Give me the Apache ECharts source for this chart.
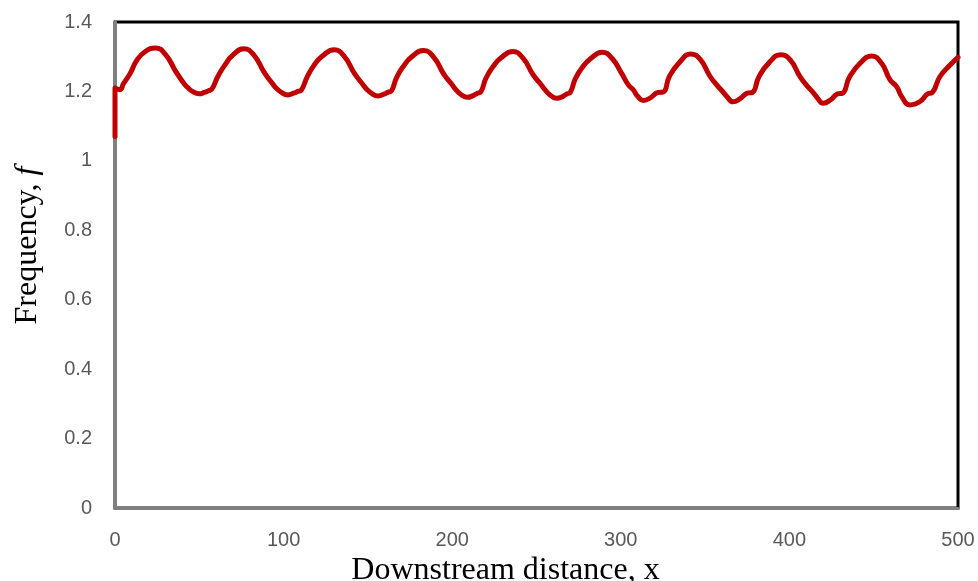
<!DOCTYPE html>
<html>
<head>
<meta charset="utf-8">
<title>Frequency vs downstream distance</title>
<script src="https://cdn.jsdelivr.net/npm/echarts@6/dist/echarts.min.js"></script>
<style>
  html, body { margin: 0; padding: 0; background: #fff; }
  #chart { width: 978px; height: 581px; }
</style>
</head>
<body>
<div id="chart"></div>
<script>
// Downstream distance x (sampled along the trace)
const distance = [
  0, 0, 1.5, 3, 5, 9, 13, 18, 24,
  30, 36, 41, 43, 46, 50, 53, 55.5, 57.5, 61, 65, 70, 76.5,
  82.5, 88.5, 93.5, 95.5, 98.5, 102.5, 106, 108.5, 110.5, 114, 118, 123, 130,
  136, 142, 147, 149, 152, 156, 159.5, 162, 164, 167, 171, 176, 183,
  189, 195, 200, 202, 205, 209, 212.5, 215, 217, 220, 224, 229, 236,
  242, 248, 253, 255, 258, 262, 265.5, 268, 270, 273, 277, 282, 289,
  295, 300.5, 304.5, 307.5, 310, 313.5, 318, 322, 325, 329, 335, 341.5,
  347, 353, 357, 360, 363, 366.5, 371, 375, 378, 382, 388, 395,
  400.5, 406.5, 410.5, 413.5, 416.5, 420, 424.5, 428.5, 431.5, 435.5, 441.9, 448.8,
  454.7, 459.7, 463.6, 466.6, 471.5, 477.5, 482, 484.5, 489.3, 495.3, 500
];

// Frequency f at each distance
const frequency = [
  1.07, 1.21, 1.207, 1.205, 1.222, 1.252, 1.29, 1.315, 1.325,
  1.306, 1.258, 1.222, 1.212, 1.200, 1.193, 1.197, 1.202, 1.207, 1.243, 1.275, 1.305, 1.323,
  1.304, 1.255, 1.222, 1.210, 1.198, 1.190, 1.195, 1.200, 1.204, 1.242, 1.275, 1.302, 1.320,
  1.301, 1.252, 1.220, 1.208, 1.195, 1.187, 1.192, 1.198, 1.202, 1.240, 1.272, 1.300, 1.318,
  1.299, 1.250, 1.219, 1.206, 1.192, 1.183, 1.188, 1.195, 1.199, 1.238, 1.270, 1.297, 1.315,
  1.296, 1.248, 1.218, 1.205, 1.190, 1.180, 1.185, 1.193, 1.197, 1.236, 1.268, 1.294, 1.313,
  1.294, 1.252, 1.219, 1.204, 1.186, 1.174, 1.183, 1.197, 1.198, 1.245, 1.285, 1.308,
  1.293, 1.243, 1.218, 1.202, 1.185, 1.170, 1.180, 1.195, 1.197, 1.243, 1.283, 1.306,
  1.291, 1.241, 1.216, 1.200, 1.182, 1.166, 1.176, 1.193, 1.195, 1.240, 1.281, 1.302,
  1.281, 1.233, 1.214, 1.185, 1.161, 1.171, 1.193, 1.196, 1.243, 1.276, 1.298
];

const xTicks = [0, 100, 200, 300, 400, 500];
const yTicks = [0, 0.2, 0.4, 0.6, 0.8, 1, 1.2, 1.4];

const points = distance.map((d, i) => [d, frequency[i]]);

const tickFont = {
  color: '#595959',
  fontFamily: 'Liberation Sans, Arial, sans-serif',
  fontSize: 20
};
const serif = 'Liberation Serif, Times New Roman, serif';

const chart = echarts.init(document.getElementById('chart'), null, { renderer: 'canvas' });

chart.setOption({
  animation: false,
  backgroundColor: '#ffffff',
  grid: {
    left: 115, right: 20, top: 22, bottom: 73,
    outerBoundsMode: 'none',
    containLabel: false,
    show: true,
    borderColor: '#000000',
    borderWidth: 3,
    backgroundColor: 'transparent'
  },
  xAxis: {
    type: 'value',
    min: xTicks[0],
    max: xTicks[xTicks.length - 1],
    interval: xTicks[1] - xTicks[0],
    name: 'Downstream distance, x',
    nameLocation: 'middle',
    nameGap: 30,
    nameTextStyle: {
      color: '#000',
      fontFamily: serif,
      fontSize: 32,
      padding: [0, 62, 0, 0]
    },
    axisLine: { show: true, lineStyle: { color: '#808080', width: 3 } },
    axisTick: { show: false },
    splitLine: { show: false },
    axisLabel: Object.assign({ margin: 22 }, tickFont)
  },
  yAxis: {
    type: 'value',
    min: yTicks[0],
    max: yTicks[yTicks.length - 1],
    interval: yTicks[1] - yTicks[0],
    name: '{a|Frequency, }{b|f}',
    nameLocation: 'middle',
    nameGap: 71,
    nameTextStyle: {
      padding: [0, 0, 0, 39],
      rich: {
        a: { color: '#000', fontFamily: serif, fontSize: 32 },
        b: { color: '#000', fontFamily: serif, fontSize: 32, fontStyle: 'italic' }
      }
    },
    axisLine: { show: true, lineStyle: { color: '#808080', width: 3 } },
    axisTick: { show: false },
    splitLine: { show: false },
    axisLabel: Object.assign({
      margin: 23,
      formatter: v => String(Math.round(v * 10) / 10)
    }, tickFont)
  },
  series: [{
    type: 'line',
    data: points,
    showSymbol: false,
    smooth: 0.5,
    lineStyle: { color: '#C00000', width: 5, cap: 'round', join: 'round' },
    itemStyle: { color: '#C00000' },
    clip: true
  }]
});
</script>
</body>
</html>
